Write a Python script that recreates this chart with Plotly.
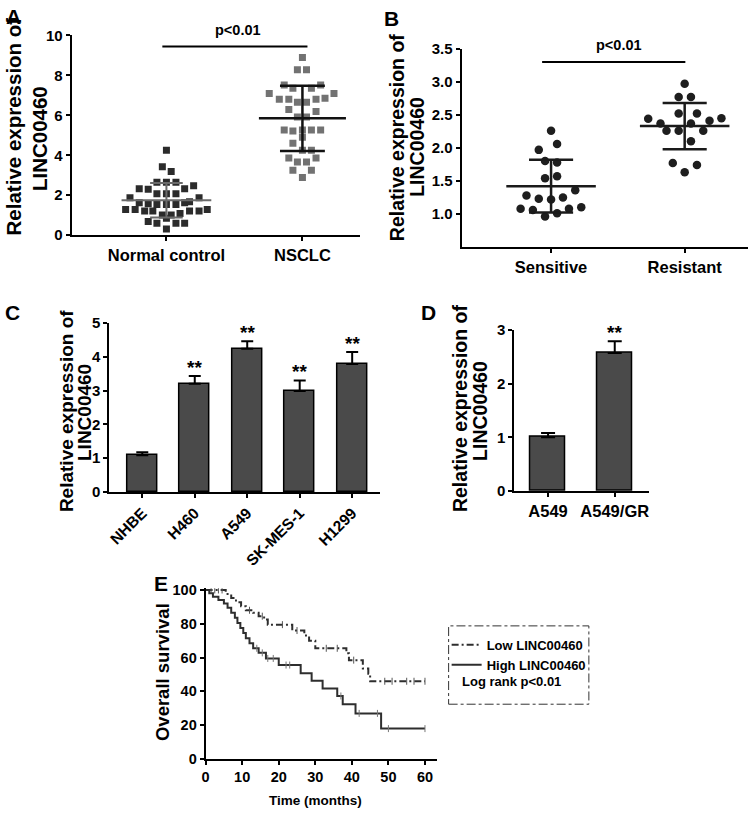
import numpy as np
import plotly.graph_objects as go

W, H = 750, 816
FONT = "Liberation Sans, Arial, sans-serif"

# ---------------- Panel A data ----------------
a_categories = ["Normal control", "NSCLC"]
a_normal_vals = [4.25, 3.43, 3.19, 2.65, 2.65, 2.65, 2.32, 2.30, 2.32, 2.48, 2.07, 2.07, 2.07,
                 1.88, 1.88, 1.63, 1.58, 1.54, 1.54, 1.54, 1.63, 1.67, 1.29, 1.29, 1.21, 1.21,
                 1.01, 1.01, 1.09, 1.21, 1.21, 1.29, 0.69, 0.60, 0.85, 0.60, 0.60, 0.31]
a_normal_jitter = [0.0, -0.03, 0.035, -0.07, 0.0, 0.07, -0.2, -0.134, 0.134, 0.2, -0.07, 0.0, 0.07,
                   -0.268, 0.24, -0.2, -0.134, -0.07, 0.0, 0.07, 0.134, 0.17, -0.3, -0.23, -0.16, -0.1,
                   -0.03, 0.035, 0.1, 0.17, 0.24, 0.3, -0.134, -0.07, 0.0, 0.07, 0.134, 0.0]
a_nsclc_vals = [8.89, 8.28, 8.28, 7.52, 7.35, 7.35, 7.52, 7.09, 7.09, 6.81, 6.81, 6.65, 6.65, 6.81,
                6.86, 6.29, 6.19, 5.92, 5.92, 5.26, 5.21, 5.26, 5.26, 5.26, 4.90, 4.60, 4.25, 4.25,
                3.87, 3.66, 3.66, 3.87, 3.25, 3.25, 2.89]
a_nsclc_jitter = [0.0, -0.037, 0.03, -0.134, -0.07, 0.066, 0.134, -0.244, 0.232, -0.17, -0.1, -0.037,
                  0.03, 0.1, 0.166, -0.1, 0.1, -0.037, 0.03, -0.134, -0.07, 0.0, 0.066, 0.134, 0.0,
                  -0.07, 0.0, 0.066, -0.1, -0.037, 0.03, 0.1, -0.07, 0.066, 0.0]
a_means = [1.75, 5.85]
a_sds = [0.86, 1.63]

# ---------------- Panel B data ----------------
b_categories = ["Sensitive", "Resistant"]
b_sens_vals = [2.26, 2.06, 1.97, 1.80, 1.78, 1.54, 1.57, 1.36, 1.28, 1.23, 1.22, 1.25,
               1.08, 1.06, 1.01, 1.08, 1.10, 0.96]
b_sens_jitter = [0.0, 0.045, -0.092, -0.045, 0.045, -0.045, 0.045, 0.181, -0.184, -0.092, 0.0, 0.089,
                 -0.228, -0.136, 0.045, 0.134, 0.226, -0.045]
b_res_vals = [2.97, 2.77, 2.77, 2.52, 2.52, 2.44, 2.37, 2.41, 2.45, 2.26, 2.26, 2.37, 2.26,
              2.10, 1.77, 1.74, 1.63]
b_res_jitter = [0.0, -0.045, 0.047, -0.045, 0.092, -0.273, -0.181, 0.186, 0.275, -0.136, -0.045,
                0.047, 0.139, 0.047, -0.089, 0.092, 0.0]
b_means = [1.42, 2.33]
b_sds = [0.40, 0.35]

# ---------------- Panel C data ----------------
c_categories = ["NHBE", "H460", "A549", "SK-MES-1", "H1299"]
c_values = [1.09, 3.20, 4.24, 2.99, 3.79]
c_errors = [0.09, 0.23, 0.22, 0.31, 0.35]
c_marks = ["", "**", "**", "**", "**"]

# ---------------- Panel D data ----------------
d_categories = ["A549", "A549/GR"]
d_values = [1.00, 2.57]
d_errors = [0.08, 0.22]
d_marks = ["", "**"]

# ---------------- Panel E data ----------------
low_t = [0, 5.5, 7, 8.3, 9.7, 11, 13, 14.5, 16, 17, 23.7, 27, 28.3, 30, 38.5, 39.2, 43, 44.5, 45, 60]
low_s = [100, 97.6, 95.2, 92.8, 90.4, 88, 86.5, 84.5, 82.5, 79.5, 76, 73, 70, 65.5, 62.5, 58.5,
         53.5, 50.5, 46, 46]
low_censor_t = [1.5, 2.5, 3.5, 4.5, 12, 15.5, 21, 25, 33, 36, 40.5, 49, 51, 55, 57, 60]
high_t = [0, 1, 2, 3.5, 5, 6, 7, 8, 8.7, 9.5, 10.3, 11, 12, 13, 14.5, 16.5, 20, 26, 29, 32, 36,
          37.5, 41, 48, 60]
high_s = [100, 98, 96, 94, 92, 89.5, 86.5, 83.5, 80.5, 77.5, 74.5, 71.5, 68.5, 65.5, 62.8, 59.5,
          55.6, 50.8, 46.3, 41.7, 37.3, 32.4, 27, 18, 18]
high_censor_t = [14, 15.5, 17, 18.5, 22, 23, 37, 42, 47, 50, 60]
e_legend = ["Low LINC00460", "High LINC00460"]
e_stat_text = "Log rank p<0.01"


def px_x(p):
    return p / W


def px_y(p):
    return 1 - p / H


fig = go.Figure()


def mean_sd_trace(center, mean, sd, half, cap, color, width, xa, ya):
    xs = [center - half, center + half, None,
          center - cap, center + cap, None,
          center - cap, center + cap, None,
          center, center]
    ys = [mean, mean, None, mean + sd, mean + sd, None, mean - sd, mean - sd, None,
          mean - sd, mean + sd]
    return go.Scatter(x=xs, y=ys, mode="lines", line=dict(color=color, width=width),
                      xaxis=xa, yaxis=ya, showlegend=False, hoverinfo="skip")


# Panel A
fig.add_trace(go.Scatter(x=[0 + j for j in a_normal_jitter], y=a_normal_vals, mode="markers",
                         marker=dict(symbol="square", size=7, color="#2b2b2b"),
                         xaxis="x", yaxis="y", showlegend=False))
fig.add_trace(go.Scatter(x=[1 + j for j in a_nsclc_jitter], y=a_nsclc_vals, mode="markers",
                         marker=dict(symbol="square", size=7, color="#727272"),
                         xaxis="x", yaxis="y", showlegend=False))
fig.add_trace(mean_sd_trace(0, a_means[0], a_sds[0], 0.33, 0.12, "#6a6a6a", 2, "x", "y"))
fig.add_trace(mean_sd_trace(1, a_means[1], a_sds[1], 0.32, 0.165, "#111111", 2.5, "x", "y"))
fig.add_trace(go.Scatter(x=[-0.03, 1.037], y=[9.45, 9.45], mode="lines",
                         line=dict(color="black", width=2), xaxis="x", yaxis="y",
                         showlegend=False, hoverinfo="skip"))

# Panel B
fig.add_trace(go.Scatter(x=[0 + j for j in b_sens_jitter], y=b_sens_vals, mode="markers",
                         marker=dict(symbol="circle", size=8.5, color="#1e1e1e"),
                         xaxis="x2", yaxis="y2", showlegend=False))
fig.add_trace(go.Scatter(x=[1 + j for j in b_res_jitter], y=b_res_vals, mode="markers",
                         marker=dict(symbol="circle", size=8.5, color="#1e1e1e"),
                         xaxis="x2", yaxis="y2", showlegend=False))
fig.add_trace(mean_sd_trace(0, b_means[0], b_sds[0], 0.335, 0.165, "#1a1a1a", 2.5, "x2", "y2"))
fig.add_trace(mean_sd_trace(1, b_means[1], b_sds[1], 0.335, 0.165, "#1a1a1a", 2.5, "x2", "y2"))
fig.add_trace(go.Scatter(x=[-0.067, 1.005], y=[3.30, 3.30], mode="lines",
                         line=dict(color="black", width=2), xaxis="x2", yaxis="y2",
                         showlegend=False, hoverinfo="skip"))

# Panel C
fig.add_trace(go.Bar(x=list(range(len(c_categories))), y=c_values, width=0.57,
                     marker=dict(color="#4a4a4a", line=dict(color="black", width=1.5)),
                     error_y=dict(type="data", symmetric=False, array=c_errors,
                                  arrayminus=[0] * len(c_errors), color="black",
                                  thickness=2, width=6),
                     xaxis="x3", yaxis="y3", showlegend=False))

# Panel D
fig.add_trace(go.Bar(x=list(range(len(d_categories))), y=d_values, width=0.52,
                     marker=dict(color="#4a4a4a", line=dict(color="black", width=1.5)),
                     error_y=dict(type="data", symmetric=False, array=d_errors,
                                  arrayminus=[0] * len(d_errors), color="black",
                                  thickness=2, width=7),
                     xaxis="x4", yaxis="y4", showlegend=False))

# Panel E
fig.add_trace(go.Scatter(x=low_t, y=low_s, mode="lines", line_shape="hv",
                         line=dict(color="#2e2e2e", width=2, dash="7px,3px,2px,3px"),
                         name=e_legend[0], xaxis="x5", yaxis="y5"))
fig.add_trace(go.Scatter(x=high_t, y=high_s, mode="lines", line_shape="hv",
                         line=dict(color="#2e2e2e", width=2),
                         name=e_legend[1], xaxis="x5", yaxis="y5"))


def step_value(ts, ss, t):
    idx = np.searchsorted(np.array(ts), t, side="right") - 1
    return ss[max(idx, 0)]


fig.add_trace(go.Scatter(x=low_censor_t, y=[step_value(low_t, low_s, t) for t in low_censor_t],
                         mode="markers", marker=dict(symbol="line-ns", size=5,
                                                     line=dict(color="#555555", width=1)),
                         xaxis="x5", yaxis="y5", showlegend=False, hoverinfo="skip"))
fig.add_trace(go.Scatter(x=high_censor_t, y=[step_value(high_t, high_s, t) for t in high_censor_t],
                         mode="markers", marker=dict(symbol="line-ns", size=5,
                                                     line=dict(color="#777777", width=1)),
                         xaxis="x5", yaxis="y5", showlegend=False, hoverinfo="skip"))

axis_common = dict(showline=True, linewidth=2, linecolor="black", showgrid=False, zeroline=False,
                   ticks="outside", ticklen=4, tickwidth=2, tickcolor="black", mirror=False,
                   fixedrange=True)


def ax(**kw):
    d = dict(axis_common)
    d.update(kw)
    return d


def bold(s):
    return dict(family=FONT, size=s, color="black", weight="bold")


fig.update_layout(
    width=W, height=H, margin=dict(l=0, r=0, t=0, b=0),
    paper_bgcolor="white", plot_bgcolor="white",
    font=dict(family=FONT, color="black"),
    # A
    xaxis=ax(domain=[px_x(68), px_x(358)], range=[-0.697, 1.424], tickvals=[0, 1],
             ticktext=a_categories, tickfont=bold(16.5), anchor="y"),
    yaxis=ax(domain=[px_y(231), px_y(27)], range=[0, 10], tickvals=[0, 2, 4, 6, 8, 10],
             tickfont=bold(15), anchor="x"),
    # B
    xaxis2=ax(domain=[px_x(460), px_x(748)], range=[-0.670, 1.474], tickvals=[0, 1],
              ticktext=b_categories, tickfont=bold(16.5), anchor="y2"),
    yaxis2=ax(domain=[px_y(243), px_y(40.7)], range=[0.5, 3.5],
              tickvals=[1.0, 1.5, 2.0, 2.5, 3.0, 3.5], tickformat=".1f",
              tickfont=bold(15), anchor="x2"),
    # C
    xaxis3=ax(domain=[px_x(106), px_x(378)], range=[-0.626, 4.53],
              tickvals=list(range(len(c_categories))), ticktext=c_categories,
              tickangle=-45, tickfont=bold(15.5), anchor="y3"),
    yaxis3=ax(domain=[px_y(493.3), px_y(320.7)], range=[0, 5], tickvals=[0, 1, 2, 3, 4, 5],
              tickfont=bold(15), anchor="x3"),
    # D
    xaxis4=ax(domain=[px_x(513), px_x(648)], range=[-0.507, 1.507],
              tickvals=list(range(len(d_categories))), ticktext=d_categories,
              tickfont=bold(16.5), anchor="y4"),
    yaxis4=ax(domain=[px_y(492.3), px_y(327.7)], range=[0, 3], tickvals=[0, 1, 2, 3],
              tickfont=bold(15), anchor="x4"),
    # E
    xaxis5=ax(domain=[px_x(202.7), px_x(435)], range=[0, 63.2],
              tickvals=[0, 10, 20, 30, 40, 50, 60], tickfont=bold(14.5), anchor="y5"),
    yaxis5=ax(domain=[px_y(766), px_y(591.6)], range=[0, 101], tickvals=[0, 20, 40, 60, 80, 100],
              tickfont=bold(14.5), anchor="x5"),
    legend=dict(x=px_x(445), y=px_y(634), xanchor="left", yanchor="top",
                font=bold(13), bgcolor="rgba(0,0,0,0)", borderwidth=0,
                itemwidth=30, tracegroupgap=0),
    bargap=0,
)

annotations = []
# Panel letters
for letter, cx, cy in [("A", 9.5, 7.5), ("B", 389.5, 9.5), ("C", 8.5, 309.5),
                       ("D", 426.5, 309.5), ("E", 158, 586.5)]:
    annotations.append(dict(text=letter, x=px_x(cx), y=px_y(cy), xref="paper", yref="paper",
                            xanchor="center", yanchor="middle", showarrow=False, font=bold(21)))

# Y titles (two lines each)
ytitles = [
    (10, 120, 35, 132, 20.5),
    (395, 131, 415, 141, 19.5),
    (63, 411, 81, 412, 19),
    (458, 408, 479, 410, 19.5),
]
for x1, y1, x2, y2, fs in ytitles:
    annotations.append(dict(text="Relative expression of", x=px_x(x1), y=px_y(y1), xref="paper",
                            yref="paper", textangle=-90, showarrow=False, font=bold(fs),
                            xanchor="center", yanchor="middle"))
    annotations.append(dict(text="LINC00460", x=px_x(x2), y=px_y(y2), xref="paper",
                            yref="paper", textangle=-90, showarrow=False, font=bold(fs),
                            xanchor="center", yanchor="middle"))

annotations.append(dict(text="Overall survival", x=px_x(160), y=px_y(677), xref="paper",
                        yref="paper", textangle=-90, showarrow=False, font=bold(18.5),
                        xanchor="center", yanchor="middle"))
annotations.append(dict(text="Time (months)", x=px_x(313), y=px_y(808), xref="paper",
                        yref="paper", showarrow=False, font=bold(13.5),
                        xanchor="center", yanchor="middle"))

# p-values
annotations.append(dict(text="p<0.01", x=0.525, y=9.45, xref="x", yref="y", yanchor="bottom",
                        yshift=6, showarrow=False, font=bold(14.5)))
annotations.append(dict(text="p<0.01", x=0.506, y=3.30, xref="x2", yref="y2", yanchor="bottom",
                        yshift=7, showarrow=False, font=bold(14.5)))

# significance stars
for i, (v, e, m) in enumerate(zip(c_values, c_errors, c_marks)):
    if m:
        annotations.append(dict(text=m, x=i, y=v + e, xref="x3", yref="y3", yanchor="bottom",
                                yshift=-4, showarrow=False, font=bold(19)))
for i, (v, e, m) in enumerate(zip(d_values, d_errors, d_marks)):
    if m:
        annotations.append(dict(text=m, x=i, y=v + e, xref="x4", yref="y4", yanchor="bottom",
                                yshift=-4, showarrow=False, font=bold(19)))

annotations.append(dict(text=e_stat_text, x=px_x(458), y=px_y(687), xref="paper", yref="paper",
                        xanchor="left", yanchor="middle", showarrow=False, font=bold(13)))

fig.update_layout(annotations=annotations)

fig.add_shape(type="rect", xref="paper", yref="paper",
              x0=px_x(447), x1=px_x(588), y0=px_y(710), y1=px_y(630),
              line=dict(color="#333333", width=1, dash="dashdot"))

fig.write_html("out.html", config={"displayModeBar": False},
               post_script="document.body.style.margin='0px';document.body.style.overflow='hidden';")
